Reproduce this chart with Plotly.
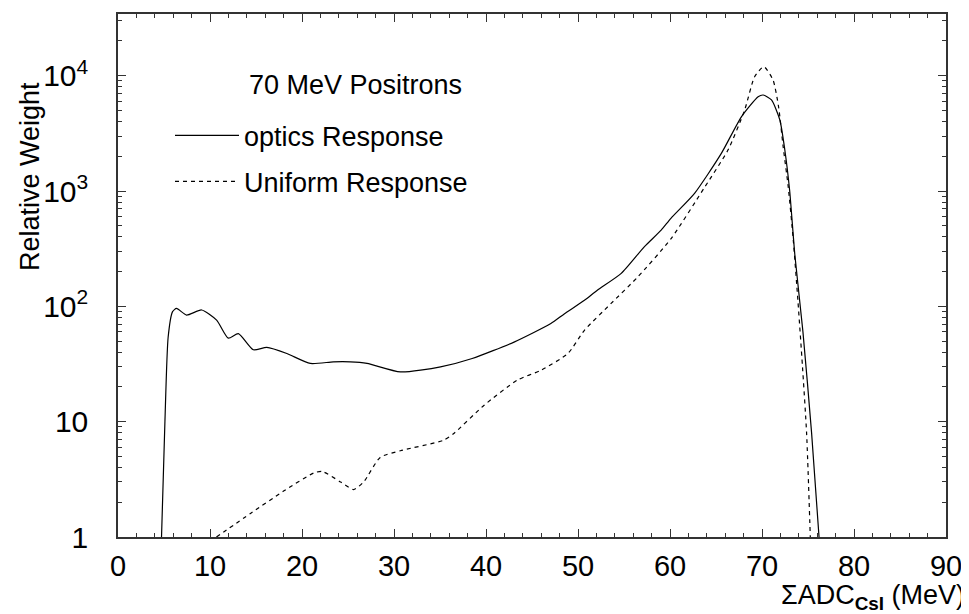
import plotly.graph_objects as go

# ---- data ----
optics_x = [4.73, 5.1, 5.45, 5.93, 6.36, 7.45, 9.09, 10.72, 11.99, 13.08, 14.71, 16.17,
            18.35, 20.9, 23.4, 25.25, 27.07, 30.7, 35.06, 38.5, 43.05, 47.05, 48.5,
            50.7, 52.1, 54.7, 57.2, 59.04, 60.1, 62.67, 65.58, 67.76, 69.58, 70.13,
            71.03, 71.94, 72.48, 73.0, 73.57, 74.45, 75.39, 76.2]
optics_y = [1, 10, 54, 90, 96, 84, 93, 76, 53, 58, 42, 44,
            39, 32, 33, 33, 32, 27, 29.9, 35.3, 49, 71, 86,
            113, 138, 193, 328, 458, 580, 955, 2120, 4400, 6570, 6800,
            6160, 4130, 2270, 1020, 280, 60, 8, 1]

uniform_x = [10.7, 14.4, 18.0, 21.3, 22.2, 24.2, 25.6, 26.7, 28.5, 30.7, 35.4, 36.5,
             39.8, 43.4, 46.0, 48.9, 50.7, 53.6, 56.5, 60.1, 63.8, 66.3, 68.1, 69.2,
             70.2, 71.2, 71.8, 72.3, 72.85, 73.4, 73.9, 74.4, 74.85, 75.25]
uniform_y = [1, 1.6, 2.5, 3.6, 3.7, 3.0, 2.58, 3.0, 4.9, 5.6, 6.9, 7.9,
             13.9, 22.9, 28, 39, 62, 106, 180, 385, 1090, 2265, 5000, 9800,
             11970, 9180, 5380, 2420, 1090, 375, 113, 30, 7.9, 1]

x_ticks = [0, 10, 20, 30, 40, 50, 60, 70, 80, 90]
y_ticks = [1, 10, 100, 1000, 10000]
y_ticktext = ["1", "10", "10<sup>2</sup>", "10<sup>3</sup>", "10<sup>4</sup>"]
y_minor = [m * 10 ** e for e in range(0, 5) for m in range(2, 10)]

FONT = "Liberation Sans"

fig = go.Figure()
fig.add_trace(go.Scatter(x=optics_x, y=optics_y, mode="lines", name="optics Response",
                         legendgroup="a",
                         line=dict(color="black", width=1.2, shape="spline", smoothing=0.6)))
fig.add_trace(go.Scatter(x=uniform_x, y=uniform_y, mode="lines", name="Uniform Response",
                         legendgroup="b",
                         line=dict(color="black", width=1.2, dash="4px,4px",
                                   shape="spline", smoothing=0.6)))

axis_common = dict(showline=True, linecolor="#333", linewidth=1.5, mirror="allticks",
                   ticks="inside", tickcolor="#333", showgrid=False, zeroline=False)

fig.update_xaxes(range=[0, 90], tickvals=x_ticks, ticklen=8, tickwidth=1.2,
                 ticklabelstandoff=2,
                 tickfont=dict(family=FONT, size=29, color="black"),
                 minor=dict(dtick=2, ticklen=4, ticks="inside", tickcolor="#333", showgrid=False),
                 **axis_common)
fig.update_yaxes(type="log", range=[0, 4.535], tickvals=y_ticks, ticktext=y_ticktext,
                 ticklen=8, tickwidth=1.2, ticklabelstandoff=22,
                 tickfont=dict(family=FONT, size=30, color="black"),
                 minor=dict(tickvals=y_minor, ticklen=4, ticks="inside", tickcolor="#333", showgrid=False),
                 **axis_common)

# page body has an 8px margin: figure is sized/margined so the plot box lands
# at x 118..946, y 14..537 in the 969x614 window
fig.update_layout(
    width=961, height=606,
    margin=dict(l=110, r=23, t=6, b=77, autoexpand=False),
    paper_bgcolor="white", plot_bgcolor="white",
    font=dict(family=FONT, color="black"),
    showlegend=True,
    legend=dict(x=(170 - 118) / 828, y=0.814, xanchor="left", yanchor="top",
                font=dict(family=FONT, size=27, color="black"),
                bgcolor="rgba(0,0,0,0)", itemwidth=64, tracegroupgap=8),
    annotations=[
        dict(text="70 MeV Positrons", xref="paper", yref="paper",
             x=(247 - 118) / 828, y=(537 - 85) / 523, xanchor="left", yanchor="middle",
             showarrow=False, font=dict(family=FONT, size=27, color="black")),
        dict(text="Relative Weight", xref="paper", yref="paper", textangle=-90,
             x=(30 - 118) / 828, y=(537 - 177) / 523, xanchor="center", yanchor="middle",
             showarrow=False, font=dict(family=FONT, size=27, color="black")),
        dict(text="ΣADC<sub><b>CsI</b></sub> (MeV)", xref="paper", yref="paper",
             x=(966 - 118) / 828, y=(537 - 615) / 523, xanchor="right", yanchor="bottom",
             borderpad=0,
             showarrow=False, font=dict(family=FONT, size=27, color="black")),
    ],
)

fig.write_html("out.html")
